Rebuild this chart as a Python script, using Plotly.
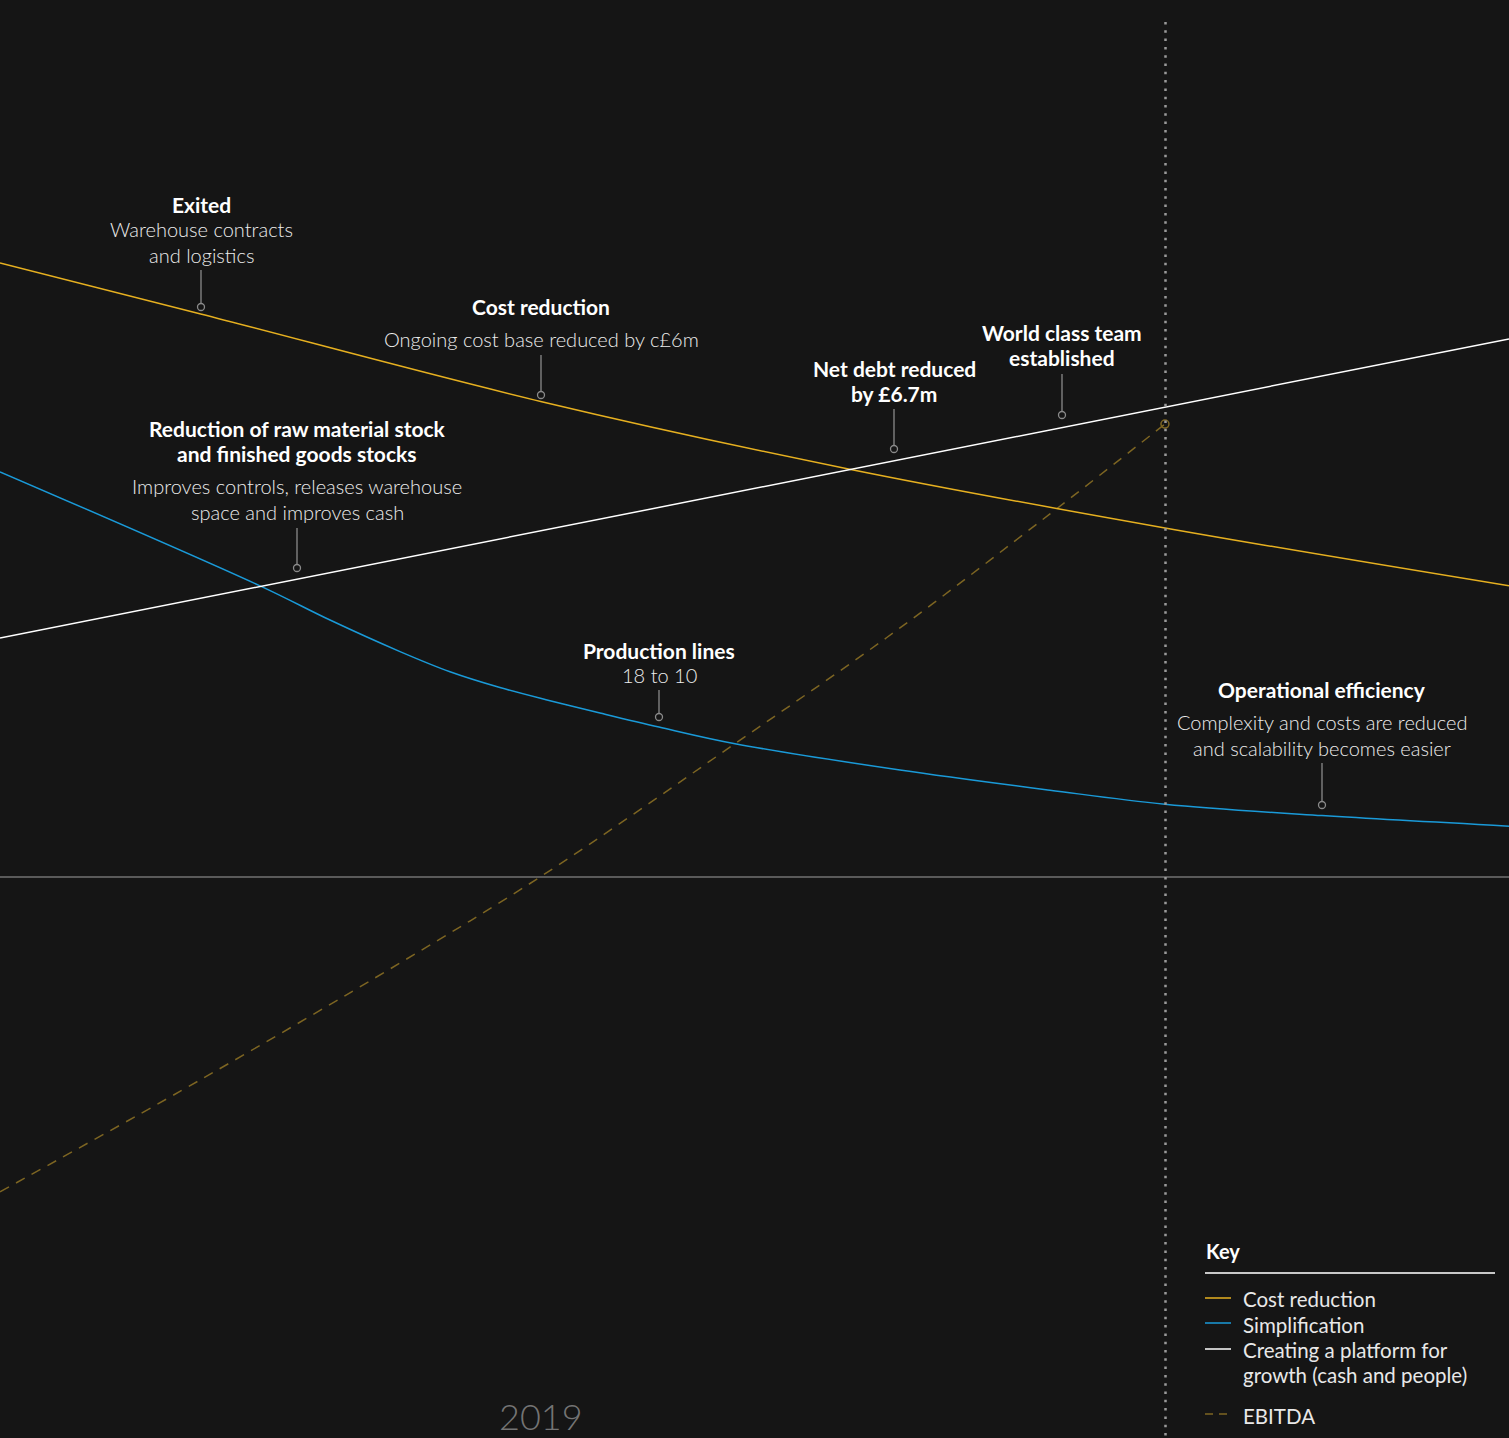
import plotly.graph_objects as go

W, H = 1509, 1438
BG = "#151515"

# ---- data (timeline 0-100, index value; baseline = 0) ----
cost_x = [0, 13.3, 35.9, 56.3, 77.2, 100]
cost_y = [70.0, 64.2, 54.2, 46.5, 39.8, 33.2]

simp_x = [0, 17.23, 21.87, 26.51, 29.82, 33.13, 36.45, 39.76, 43.67, 48.71, 59.64, 69.58, 77.2, 87.61, 100]
simp_y = [46.2, 33.2, 29.3, 25.7, 23.4, 21.6, 20.1, 18.7, 17.1, 15.2, 12.2, 9.9, 8.3, 7.0, 5.8]

plat_x = [0, 100]
plat_y = [27.25, 61.35]

ebitda_x = [0, 13.25, 26.51, 35.79, 48.71, 59.64, 69.58, 77.2]
ebitda_y = [-35.9, -23.15, -9.8, 0.0, 15.2, 28.4, 41.4, 51.65]

year_label = "2019"

# ---- layout helpers (pixel -> axis units) ----
XMAX, YTOP, YBOT = 100.0, 100.0, -63.968
def X(px):
    return px / W * XMAX
def Y(py):
    return YTOP - py / H * (YTOP - YBOT)

YELLOW = "#e6b020"
BLUE = "#1a9ad8"
WHITE = "#ffffff"
GOLD = "#7d6522"
GREY = "#9a9a9a"
FONT = "Lato"

fig = go.Figure()

fig.add_trace(go.Scatter(x=ebitda_x, y=ebitda_y, mode="lines",
                         line=dict(color=GOLD, width=1.5, dash="10px,8px", shape="spline"),
                         hoverinfo="skip"))
fig.add_trace(go.Scatter(x=cost_x, y=cost_y, mode="lines",
                         line=dict(color=YELLOW, width=1.5, shape="spline"), hoverinfo="skip"))
fig.add_trace(go.Scatter(x=simp_x, y=simp_y, mode="lines",
                         line=dict(color=BLUE, width=1.5, shape="spline"), hoverinfo="skip"))
fig.add_trace(go.Scatter(x=plat_x, y=plat_y, mode="lines",
                         line=dict(color=WHITE, width=1.5), hoverinfo="skip"))

# EBITDA end marker
fig.add_trace(go.Scatter(x=[ebitda_x[-1]], y=[ebitda_y[-1]], mode="markers",
                         marker=dict(symbol="circle-open", size=8, color=GOLD,
                                     line=dict(color=GOLD, width=1.5)), hoverinfo="skip"))

shapes = []
# baseline
shapes.append(dict(type="line", xref="x", yref="y", x0=0, x1=XMAX, y0=0, y1=0,
                   line=dict(color="#5a5a5a", width=2)))
# vertical dotted marker
shapes.append(dict(type="line", xref="x", yref="y", x0=X(1165.5), x1=X(1165.5), y0=Y(22), y1=YBOT,
                   line=dict(color=GREY, width=2.5, dash="2.5px,5.8px")))

annotations = []

def label(cx, title_lines, body_lines, title_y, body_y, lead_top, lead_bot):
    for i, t in enumerate(title_lines):
        annotations.append(dict(x=X(cx), y=Y(title_y + i * 25), xref="x", yref="y",
                                text="<b>" + t + "</b>", showarrow=False,
                                xanchor="center", yanchor="middle",
                                font=dict(family=FONT, size=21, color="#ffffff")))
    for i, t in enumerate(body_lines):
        annotations.append(dict(x=X(cx), y=Y(body_y + i * 25.5), xref="x", yref="y",
                                text=t, showarrow=False,
                                xanchor="center", yanchor="middle",
                                font=dict(family=FONT, size=20, color="#ececec", weight=300)))
    shapes.append(dict(type="line", xref="x", yref="y", x0=X(cx), x1=X(cx),
                       y0=Y(lead_top), y1=Y(lead_bot - 3.5),
                       line=dict(color="#8a8a8a", width=1.3)))
    return (X(cx), Y(lead_bot))

circles = []
circles.append(label(201, ["Exited"], ["Warehouse contracts", "and logistics"], 204, 229, 270, 307))
circles.append(label(541, ["Cost reduction"], ["Ongoing cost base reduced by c£6m"], 306, 339, 355, 395))
circles.append(label(297, ["Reduction of raw material stock", "and finished goods stocks"],
                     ["Improves controls, releases warehouse", "space and improves cash"], 428, 486, 528, 568))
circles.append(label(894, ["Net debt reduced", "by £6.7m"], [], 368, 0, 409, 449))
circles.append(label(1062, ["World class team", "established"], [], 332, 0, 374, 415))
circles.append(label(659, ["Production lines"], ["18 to 10"], 650, 675, 690, 717))
circles.append(label(1322, ["Operational efficiency"],
                     ["Complexity and costs are reduced", "and scalability becomes easier"], 689, 722, 763, 805))

fig.add_trace(go.Scatter(x=[c[0] for c in circles], y=[c[1] for c in circles], mode="markers",
                         marker=dict(symbol="circle", size=7, color=BG,
                                     line=dict(color="#8a8a8a", width=1.3)), hoverinfo="skip"))

# year label
annotations.append(dict(x=X(541), y=Y(1416), xref="x", yref="y", text=year_label, showarrow=False,
                        xanchor="center", yanchor="middle",
                        font=dict(family=FONT, size=36, color="#747474", weight=300)))

# ---- key ----
annotations.append(dict(x=X(1204), y=Y(1251), xref="x", yref="y", text="<b>Key</b>", showarrow=False,
                        xanchor="left", yanchor="middle",
                        font=dict(family=FONT, size=20, color="#ffffff")))
shapes.append(dict(type="line", xref="x", yref="y", x0=X(1205), x1=X(1495), y0=Y(1273), y1=Y(1273),
                   line=dict(color="#c8c8c8", width=2)))
key_items = [
    ("Cost reduction", YELLOW, None, 1298, 1299),
    ("Simplification", BLUE, None, 1323, 1325),
    ("Creating a platform for", WHITE, None, 1349, 1350),
    ("growth (cash and people)", None, None, None, 1375),
    ("EBITDA", GOLD, "8px,6px", 1414, 1416),
]
for text, col, dash, ly, ty in key_items:
    if col is not None:
        shapes.append(dict(type="line", xref="x", yref="y", x0=X(1205), x1=X(1231),
                           y0=Y(ly), y1=Y(ly),
                           line=dict(color=col, width=1.5, dash=dash or "solid")))
    annotations.append(dict(x=X(1241), y=Y(ty), xref="x", yref="y", text=text, showarrow=False,
                            xanchor="left", yanchor="middle",
                            font=dict(family=FONT, size=20.5, color="#e8e8e8")))

fig.update_layout(
    width=W, height=H,
    margin=dict(l=0, r=0, t=0, b=0),
    paper_bgcolor=BG, plot_bgcolor=BG,
    showlegend=False,
    xaxis=dict(range=[0, XMAX], visible=False, fixedrange=True),
    yaxis=dict(range=[YBOT, YTOP], visible=False, fixedrange=True),
    shapes=shapes,
    annotations=annotations,
)

fig.write_html("out.html")
